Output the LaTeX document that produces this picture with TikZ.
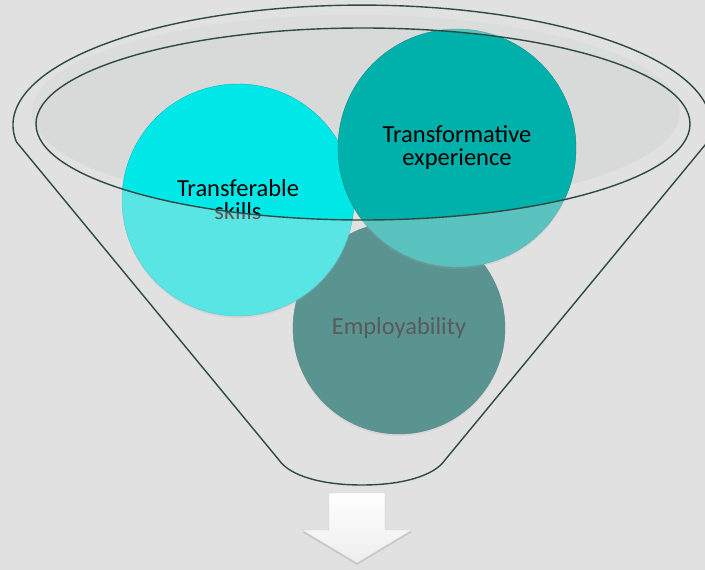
\documentclass[tikz,border=0pt]{standalone}
\usepackage{fontspec}
\setmainfont{Carlito}
\usetikzlibrary{shadows}
\definecolor{bgGray}{HTML}{E1E1E1}
\definecolor{bowlGray}{HTML}{D8D9D9}
\definecolor{rimLine}{HTML}{2E4A44}
\definecolor{skillCyan}{HTML}{00E8E8}
\definecolor{expTeal}{HTML}{00B0AB}
\definecolor{empTeal}{HTML}{00615A}
\tikzstyle{bubble} = [circle, inner sep=0pt, align=center, text=black, font=\fontsize{24.5}{23}\selectfont, drop shadow={opacity=0.2, shadow xshift=0pt, shadow yshift=-2pt}]
\tikzstyle{rim} = [draw=rimLine, line width=1.4pt]
\tikzstyle{veil} = [fill=bgGray, fill opacity=0.4, even odd rule]
\tikzstyle{downarrow} = [top color=white, bottom color=gray!14, draw=gray!40, line width=0.4pt, drop shadow={opacity=0.25, shadow xshift=0pt, shadow yshift=-2pt}]
\newcommand{\funnelbody}{(16.5,142) arc[start angle=171.9, end angle=368.1, x radius=349, y radius=120] -- (445,460) .. controls (434,476) and (402,485) .. (362,485) .. controls (322,485) and (290,476) .. (279,460) -- cycle}

\begin{document}
\begin{tikzpicture}[x=1pt, y=-1pt]
\fill[bgGray] (0,0) rectangle (705,570);
\useasboundingbox (0,0) rectangle (705,570);
% bowl surface
\fill[bowlGray] (356,112) ellipse [x radius=324, y radius=97];

\node (Employ)[bubble, fill=empTeal, draw=empTeal!80!black, minimum size=212pt] at (399,328) {Employability};
\node (TransSkills)[bubble, fill=skillCyan, draw=skillCyan!80!black, minimum size=232pt] at (238,200) {Transferable\\skills};
\node (TransExp)[bubble, fill=expTeal, draw=expTeal!80!black, minimum size=238pt] at (457,148) {Transformative\\experience};

% front of the funnel
\fill[veil] \funnelbody (363,124) ellipse [x radius=327, y radius=96];
\draw[rim] \funnelbody;
\draw[rim] (363,124) ellipse [x radius=327, y radius=96];

\shade[downarrow] (329,493) -- (385,493) -- (385,530) -- (412,530) -- (357,563) -- (302,530) -- (329,530) -- cycle;
\end{tikzpicture}
\end{document}
